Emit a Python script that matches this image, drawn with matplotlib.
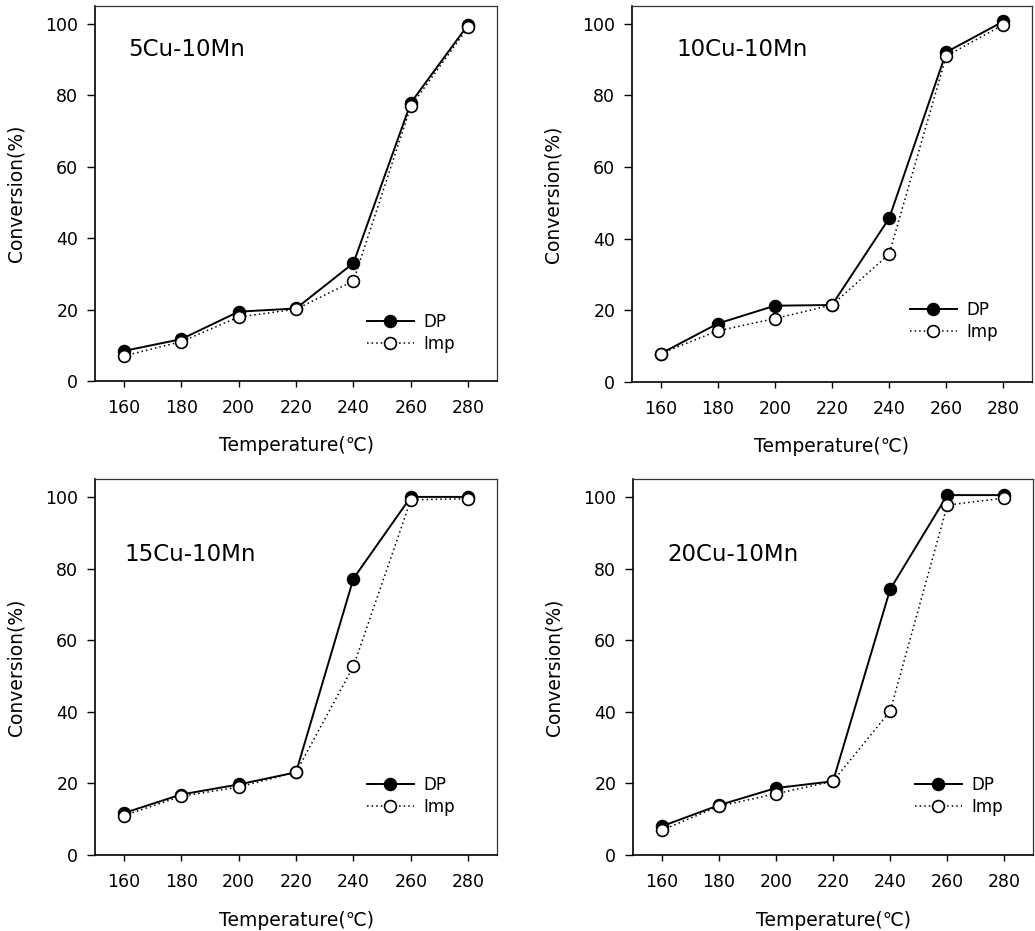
import matplotlib.pyplot as plt

plt.rcParams['font.family'] = ['DejaVu Sans', 'Noto Sans CJK SC']

# Reaction temperatures (deg C)
temps = [160, 180, 200, 220, 240, 260, 280]

# Conversion (%) for each catalyst, DP vs. impregnation
titles = ["5Cu-10Mn", "10Cu-10Mn", "15Cu-10Mn", "20Cu-10Mn"]
dp_5cu = [8.4, 11.7, 19.4, 20.3, 33.0, 77.9, 99.8]
imp_5cu = [7.0, 11.0, 17.9, 20.1, 28.0, 76.9, 99.1]
dp_10cu = [7.9, 16.3, 21.3, 21.5, 45.7, 92.1, 100.7]
imp_10cu = [7.9, 14.3, 17.7, 21.5, 35.7, 91.0, 99.8]
dp_15cu = [11.7, 16.9, 19.7, 23.1, 77.2, 100.0, 100.0]
imp_15cu = [11.0, 16.4, 19.0, 23.1, 52.7, 99.2, 99.5]
dp_20cu = [8.0, 13.9, 18.7, 20.6, 74.2, 100.5, 100.5]
imp_20cu = [6.9, 13.6, 17.1, 20.6, 40.2, 97.7, 99.7]

dp_all = [dp_5cu, dp_10cu, dp_15cu, dp_20cu]
imp_all = [imp_5cu, imp_10cu, imp_15cu, imp_20cu]

# axes rectangles [left, bottom, width, height] in figure fractions
rects = [
    [0.0918, 0.5908, 0.3884, 0.4028],
    [0.6106, 0.5897, 0.3865, 0.4039],
    [0.0918, 0.0816, 0.3884, 0.4039],
    [0.6116, 0.0816, 0.3865, 0.4039],
]
title_pos = [(0.082, 0.885), (0.11, 0.885), (0.072, 0.80), (0.085, 0.80)]
legend_pos = [(0.677, 0.129), (0.695, 0.162), (0.677, 0.157), (0.705, 0.158)]

fig = plt.figure(figsize=(10.35, 9.31), dpi=100)

for k in range(4):
    ax = fig.add_axes(rects[k])
    ax.plot(temps, dp_all[k], '-', color='black', lw=1.4, marker='o',
            ms=8.5, mfc='black', mec='black', mew=1.2, label='DP', zorder=3)
    ax.plot(temps, imp_all[k], color='black', lw=1.1, ls=(0, (1, 2)),
            marker='o', ms=8.5, mfc='white', mec='black', mew=1.2,
            label='Imp', zorder=4)

    ax.set_xlim(150, 290)
    ax.set_ylim(0, 105)
    ax.set_xticks(temps)
    ax.set_yticks([0, 20, 40, 60, 80, 100])
    ax.tick_params(axis='y', direction='out', length=6, width=1.0,
                   labelsize=12.5, pad=6)
    ax.tick_params(axis='x', direction='out', length=4, width=1.0,
                   labelsize=12.5, pad=9)
    for side in ['left', 'bottom']:
        ax.spines[side].set_linewidth(1.2)
    for side in ['top', 'right']:
        ax.spines[side].set_linewidth(0.9)
        ax.spines[side].set_color('#333333')

    ax.set_xlabel("Temperature(℃)", fontsize=13.5, labelpad=14)
    ax.set_ylabel("Conversion(%)", fontsize=13.5, labelpad=14)

    ax.text(title_pos[k][0], title_pos[k][1], titles[k], transform=ax.transAxes,
            fontsize=16.5, ha='left', va='center')

    ax.legend(loc='center left', bbox_to_anchor=legend_pos[k], frameon=False,
              fontsize=12, handlelength=2.8, handletextpad=0.6,
              labelspacing=0.25, borderpad=0, borderaxespad=0)

fig.savefig("out.png", dpi=100)
